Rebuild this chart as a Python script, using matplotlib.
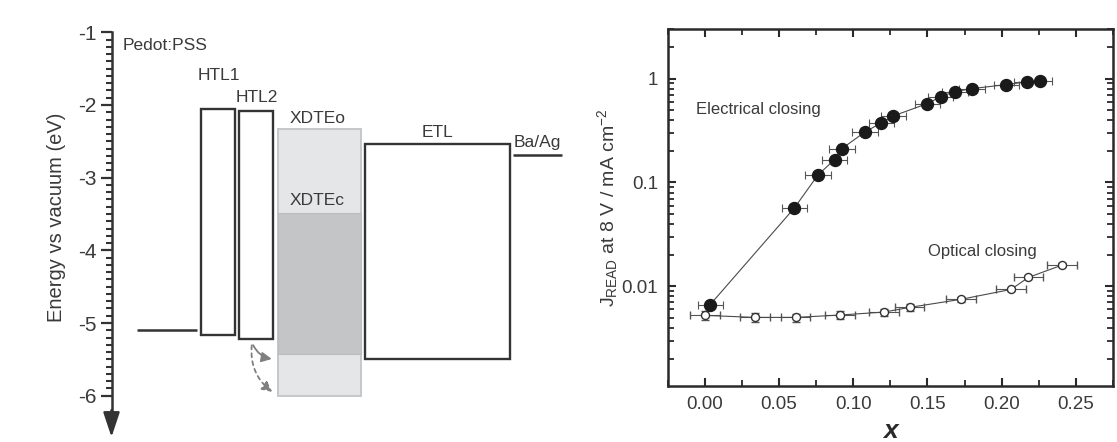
import numpy as np
import matplotlib
matplotlib.use('Agg')
import matplotlib.pyplot as plt
from matplotlib.patches import Rectangle, FancyArrowPatch
from matplotlib.ticker import FixedLocator, FixedFormatter, NullFormatter, LogLocator, MultipleLocator

plt.rcParams['font.family'] = ['Liberation Sans', 'DejaVu Sans']
plt.rcParams['mathtext.fontset'] = 'custom'
plt.rcParams['mathtext.rm'] = 'Liberation Sans'
plt.rcParams['mathtext.it'] = 'Liberation Sans:italic'
plt.rcParams['axes.unicode_minus'] = False

# ---- energy levels (eV) ----
layer_names = ['HTL1', 'HTL2', 'XDTEo', 'XDTEc', 'ETL']
lumo = [-2.05, -2.08, -2.33, -3.49, -2.54]
homo = [-5.17, -5.22, -6.00, -5.43, -5.50]
pedot_wf = -5.10
baag_wf = -2.69
transfer_from = -5.27
transfer_to = [-5.50, -5.97]

# ---- J_READ vs x ----
x_elec = [0.0036, 0.0604, 0.0762, 0.0874, 0.0924, 0.108, 0.119, 0.127,
          0.150, 0.159, 0.1686, 0.180, 0.203, 0.217, 0.2255]
j_elec = [0.00667, 0.057, 0.118, 0.166, 0.212, 0.307, 0.375, 0.437,
          0.575, 0.671, 0.75, 0.80, 0.875, 0.93, 0.95]
xerr_elec = 0.0085

x_opt = [0.000, 0.0337, 0.0611, 0.091, 0.1206, 0.138, 0.1724, 0.2063, 0.218, 0.2405]
j_opt = [0.00526, 0.00503, 0.00503, 0.0053, 0.00566, 0.00628, 0.0075, 0.00935, 0.0122, 0.016]
yerr_opt_rel = [0.10, 0.10, 0.09, 0.09, 0.08, 0.07, 0.05, 0.04, 0.04, 0.04]
xerr_opt = 0.010

ytick_vals = [0.01, 0.1, 1]
ytick_text = ['0.01', '0.1', '1']

fig = plt.figure(figsize=(11.17, 4.42), dpi=100)
W, H = 1117.0, 442.0

# ================= energy diagram =================
ink = '#333333'
txt = '#3a3a3a'
axl = fig.add_axes([0, 0.00615, 580 / W, 0.9372])
axl.set_xlim(0, 580)
axl.set_ylim(-6.6, -0.9)

# layout of the columns (pixel-like x units)
box_left = [200.7, 239.0, 277.5, 277.5, 365.0]
box_width = [33.9, 34.0, 83.2, 83.2, 145.0]
lbl_x = [197.5, 236, 289.5, 289.5, 437.5]
lbl_gap = [0.46, 0.18, 0.15, 0.17, 0.165]

for i, name in enumerate(layer_names):
    if name == 'XDTEo':
        fc, ec, lw, z = '#e5e6e8', '#c6c7c9', 1.4, 1
    elif name == 'XDTEc':
        fc, ec, lw, z = '#c4c5c7', '#bbbcbe', 0.8, 2
    else:
        fc, ec, lw, z = 'white', ink, 1.7, 3
    axl.add_patch(Rectangle((box_left[i], homo[i]), box_width[i], lumo[i] - homo[i],
                            facecolor=fc, edgecolor=ec, lw=lw, zorder=z))
    ha = 'center' if name == 'ETL' else 'left'
    axl.text(lbl_x[i], lumo[i] + lbl_gap[i], name, ha=ha, va='center',
             fontsize=12.5, color=txt, zorder=5)

# electrode work functions
axl.plot([137, 197], [pedot_wf, pedot_wf], color=ink, lw=1.8, solid_capstyle='butt')
axl.plot([513, 562], [baag_wf, baag_wf], color=ink, lw=1.8, solid_capstyle='butt', clip_on=False)
axl.text(122.5, -1.18, 'Pedot:PSS', ha='left', va='center', fontsize=12.5, color=txt)
axl.text(513.5, baag_wf + 0.17, 'Ba/Ag', ha='left', va='center', fontsize=12.5, color=txt)

# hole transfer arrows from HTL2 into XDTE
styles = ['-', (0, (2.2, 2.2))]
rads = [0.3, 0.3]
for target, ls, rad in zip(transfer_to, styles, rads):
    arr = FancyArrowPatch((252, transfer_from), (274.5, target),
                          connectionstyle='arc3,rad=%.2f' % rad,
                          arrowstyle='-|>,head_length=6,head_width=3',
                          color='#7f7f7f', lw=1.3, linestyle=ls, zorder=6)
    axl.add_patch(arr)

# energy axis
axis_x = 111.5
for s in ['top', 'right', 'bottom']:
    axl.spines[s].set_visible(False)
axl.spines['left'].set_position(('data', axis_x))
axl.spines['left'].set_bounds(-6.3, -1.0)
axl.spines['left'].set_linewidth(1.8)
axl.spines['left'].set_color(ink)
axl.yaxis.set_major_locator(FixedLocator([-6, -5, -4, -3, -2, -1]))
axl.yaxis.set_minor_locator(FixedLocator(np.round(np.arange(-6.0, -0.95, 0.1), 2)))
axl.tick_params(axis='y', which='major', direction='out', length=8, width=1.6,
                color=ink, labelsize=15, labelcolor=txt, pad=3)
axl.tick_params(axis='y', which='minor', direction='out', length=4.5, width=1.5, color=ink)
axl.set_xticks([])
axl.annotate('', xy=(axis_x, -6.57), xytext=(axis_x, -6.2),
             arrowprops=dict(arrowstyle='-|>,head_length=1.5,head_width=0.5',
                             mutation_scale=10, color=ink, lw=1.8, shrinkA=0, shrinkB=0))
axl.text(57, -3.55, 'Energy vs vacuum (eV)', rotation=90, ha='center', va='center',
         fontsize=14.5, color=txt)

# ================= J_READ vs x =================
axr = fig.add_axes([667.7 / W, 1 - 386 / H, (1113 - 667.7) / W, (386 - 29) / H])
axr.set_yscale('log')
axr.set_xlim(-0.025, 0.275)
axr.set_ylim(0.0011, 3)

line_c = '#4a4a4a'
axr.errorbar(x_opt, j_opt, xerr=xerr_opt, yerr=np.array(yerr_opt_rel) * np.array(j_opt),
             fmt='o', ms=5.8, mfc='white', mec='#333333', mew=1.0,
             ecolor='#555555', elinewidth=0.8, capsize=3, capthick=0.8,
             ls='-', color=line_c, lw=0.8, zorder=3)
axr.errorbar(x_elec, j_elec, xerr=xerr_elec, fmt='o', ms=8.6, mfc='#1a1a1a',
             mec='#1a1a1a', ecolor='#555555', elinewidth=0.8, capsize=3, capthick=0.8,
             ls='-', color=line_c, lw=0.8, zorder=4)

axr.text(-0.006, 0.50, 'Electrical closing', ha='left', va='center', fontsize=12, color=txt)
axr.text(0.1505, 0.0215, 'Optical closing', ha='left', va='center', fontsize=12, color=txt)

axr.yaxis.set_major_locator(FixedLocator(ytick_vals))
axr.yaxis.set_major_formatter(FixedFormatter(ytick_text))
axr.yaxis.set_minor_locator(LogLocator(base=10, subs=np.arange(2, 10), numticks=20))
axr.yaxis.set_minor_formatter(NullFormatter())
axr.xaxis.set_major_locator(MultipleLocator(0.05))
axr.xaxis.set_minor_locator(MultipleLocator(0.025))
axr.set_xticks([0, 0.05, 0.10, 0.15, 0.20, 0.25])
axr.set_xticklabels(['0.00', '0.05', '0.10', '0.15', '0.20', '0.25'])

for s in axr.spines.values():
    s.set_linewidth(1.8)
    s.set_color('#2a2a2a')
axr.tick_params(which='both', direction='in', top=True, right=True, color='#2a2a2a',
                labelsize=13.5, labelcolor=txt)
axr.tick_params(which='major', length=6, width=1.5, pad=7)
axr.tick_params(which='minor', length=4, width=1.3)

axr.set_xlabel('x', fontsize=19, fontstyle='italic', fontweight='bold', color='#2a2a2a', labelpad=4.5)
axr.set_ylabel(r'J$_{\mathrm{READ}}$ at 8 V / mA cm$^{\mathrm{-2}}$', fontsize=14,
               color=txt, labelpad=1)

fig.savefig('out.png', dpi=100)
